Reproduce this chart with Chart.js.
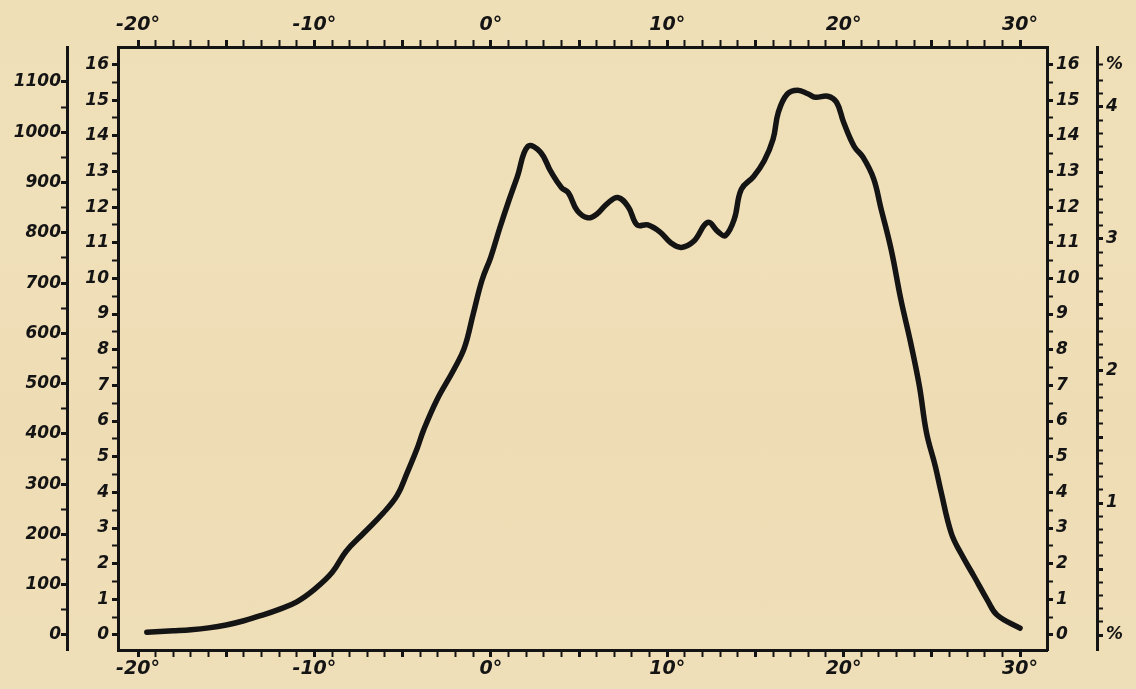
<!DOCTYPE html>
<html><head><meta charset="utf-8">
<script src="https://cdn.jsdelivr.net/npm/chart.js@4"></script>
<style>
html,body{margin:0;padding:0;background:#efdfb7;}
#wrap{width:1136px;height:689px;position:relative;
background:linear-gradient(180deg,#efdfb7 0%,#f0e0b9 30%,#eedcb4 60%,#efdfb8 100%);}
canvas{display:block;}
</style></head><body><div id="wrap"><canvas id="c" width="1136" height="689"></canvas></div>
<script>
// Data (degrees vs. scale value 0-16)
const degrees = [-19.5,-18,-17,-16,-15,-14,-13,-12,-11,-10,-9,-8.2,-7.2,-6.1,-5.3,-4.75,-4.2,-3.8,-3.05,-2.1,-1.5,-1,-0.5,0,0.5,1,1.5,2.1,2.8,3.4,4,4.4,4.9,5.5,6,6.6,7.2,7.8,8.3,8.9,9.6,10.2,10.8,11.5,12.3,12.9,13.3,13.8,14.2,14.9,15.5,16,16.3,16.8,17.4,18,18.4,19.1,19.6,20,20.6,21.1,21.7,22.1,22.7,23.25,23.8,24.3,24.7,25.2,25.5,26.1,26.65,27.4,28.15,28.7,30];
const intensity = [0.08,0.12,0.15,0.2,0.28,0.4,0.55,0.72,0.93,1.28,1.75,2.35,2.86,3.42,3.92,4.54,5.2,5.76,6.6,7.44,8.05,9.0,9.95,10.6,11.4,12.15,12.85,13.7,13.55,13.0,12.55,12.4,11.9,11.7,11.8,12.1,12.27,12.0,11.5,11.5,11.3,11.0,10.87,11.04,11.57,11.3,11.2,11.66,12.5,12.86,13.3,13.9,14.66,15.17,15.28,15.17,15.08,15.11,14.94,14.38,13.7,13.4,12.8,12.0,10.8,9.4,8.2,6.97,5.67,4.73,4.07,2.86,2.29,1.64,0.98,0.56,0.19];

// Tick labels
const degreeLabels = [-20,-10,0,10,20,30];
const countLabels = [0,100,200,300,400,500,600,700,800,900,1000,1100];
const scaleLabels = [0,1,2,3,4,5,6,7,8,9,10,11,12,13,14,15,16];
const percentLabels = [1,2,3,4];
const percentMark = '%';

function range(a,b,s){const r=[];const n=Math.round((b-a)/s);for(let i=0;i<=n;i++)r.push(+(a+i*s).toFixed(4));return r;}

const INK = '#141414';
const tickFont = {family:'DejaVu Sans', size:17, style:'italic', weight:'bold'};
const xFont = {family:'DejaVu Sans', size:19, style:'italic', weight:'bold'};

function grid(len, majorTest){
  return {drawOnChartArea:false, drawTicks:true, tickLength:len, tickColor:INK,
    tickWidth:(ctx)=> (ctx.tick && majorTest(ctx.tick.value)) ? 3 : 2};
}
const border = {display:true, color:INK, width:3};

function xAxis(pos, h, pad){
  return {
    type:'linear', position:pos, min:-21.134, max:31.53, weight:0,
    border, grid:grid(7, v=>Math.abs(v%5)<1e-6),
    afterBuildTicks:s=>{s.ticks = range(-20,30,1).map(v=>({value:v}));},
    afterFit:s=>{s.height=h;},
    ticks:{autoSkip:false, maxRotation:0, color:INK, font:xFont, padding:pad,
      callback:v=> degreeLabels.includes(v) ? v+'°' : ''}
  };
}

const data = {datasets:[{
  data: degrees.map((d,i)=>({x:d, y:intensity[i]})),
  borderColor:INK, borderWidth:5.5, pointRadius:0, tension:0.4, fill:false,
  xAxisID:'x', yAxisID:'y', borderCapStyle:'round', borderJoinStyle:'round'
}]};

new Chart(document.getElementById('c'), {
  type:'line', data,
  options:{
    responsive:false, animation:false, devicePixelRatio:1,
    layout:{padding:0},
    plugins:{legend:{display:false}, tooltip:{enabled:false}},
    scales:{
      x: xAxis('bottom', 39, 1),
      x2: xAxis('top', 47, 4),
      y:{ type:'linear', position:'left', min:-0.421, max:16.49, weight:0,
        border, grid:grid(6, v=>Number.isInteger(v)),
        afterBuildTicks:s=>{s.ticks = range(0,16,0.5).map(v=>({value:v}));},
        afterFit:s=>{s.width=51;},
        ticks:{autoSkip:false, color:INK, font:tickFont, padding:3,
          callback:v=> scaleLabels.includes(v) ? String(v) : ''}},
      yCount:{ type:'linear', position:'left', min:-29.84, max:1169.6, weight:1,
        border, grid:grid(6, v=>v%100===0),
        afterBuildTicks:s=>{s.ticks = range(0,1100,50).map(v=>({value:v}));},
        afterFit:s=>{s.width=67;},
        ticks:{autoSkip:false, color:INK, font:tickFont, padding:0,
          callback:v=> countLabels.includes(v) ? String(v) : ''}},
      yRight:{ type:'linear', position:'right', min:-0.421, max:16.49, weight:0,
        border, grid:grid(6, v=>Number.isInteger(v)),
        afterBuildTicks:s=>{s.ticks = range(0,16,0.5).map(v=>({value:v}));},
        afterFit:s=>{s.width=50;},
        ticks:{autoSkip:false, color:INK, font:tickFont, padding:3,
          callback:v=> scaleLabels.includes(v) ? String(v) : ''}},
      yPct:{ type:'linear', position:'right', min:-0.1136, max:4.4545, weight:1,
        border, grid:grid(6, v=>Math.abs(v*2-Math.round(v*2))<1e-6),
        afterBuildTicks:s=>{s.ticks = range(0,4.2,0.1).map(v=>({value:v})).concat([{value:4.32}]);},
        afterFit:s=>{s.width=39;},
        ticks:{autoSkip:false, color:INK, font:tickFont, padding:3,
          callback:v=> (v===0 || v===4.32) ? percentMark : (percentLabels.includes(v) ? String(v) : '')}}
    }
  }
});
</script>
</body></html>
